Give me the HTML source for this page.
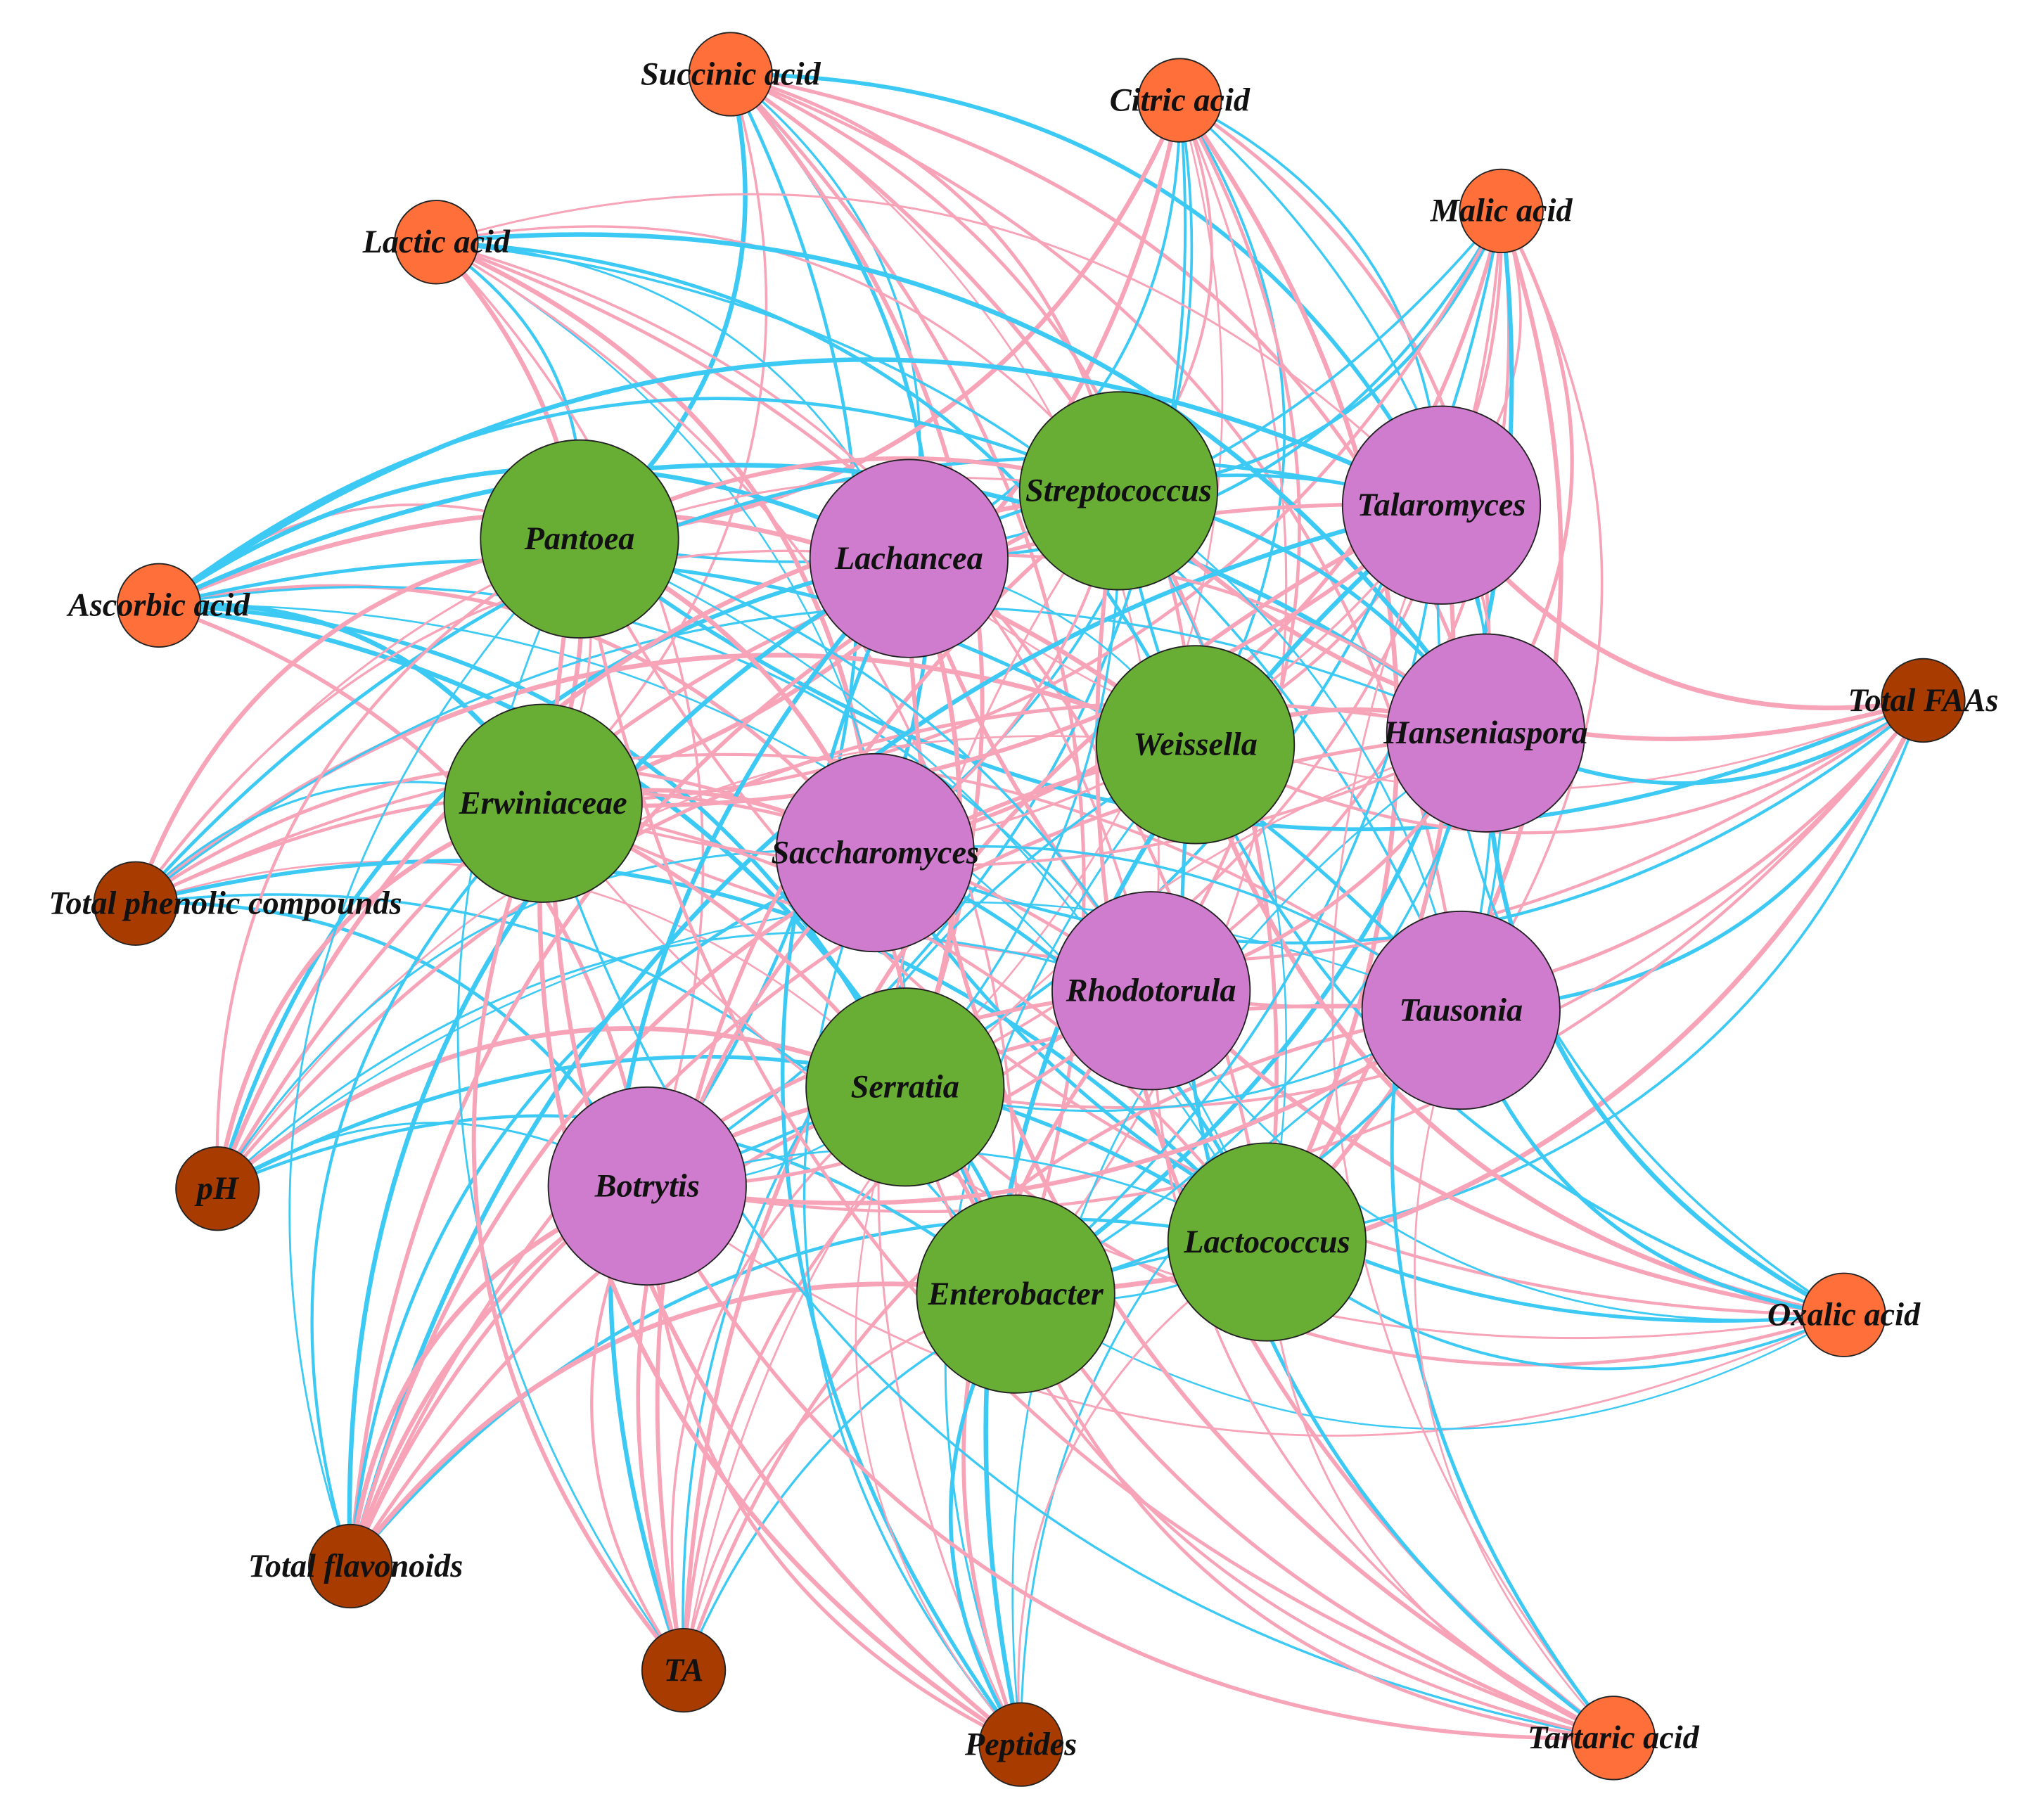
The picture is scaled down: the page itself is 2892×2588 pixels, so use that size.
<!DOCTYPE html>
<html><head><meta charset="utf-8">
<style>
html,body{margin:0;padding:0;background:#fff;}
svg{display:block;}
text{font-family:"Liberation Serif",serif;font-weight:bold;font-style:italic;fill:#111;}
</style></head>
<body>
<svg id="s" width="2892" height="2588" viewBox="0 0 1562 1398" xmlns="http://www.w3.org/2000/svg">
<g id="edges" fill="none"></g>
<g id="nodes"></g>
<g id="labels"></g>
</svg>
<script>
var outer=[
["Succinic acid",561,57,"#fe6f3a"],["Citric acid",906,77,"#fe6f3a"],["Malic acid",1153,162,"#fe6f3a"],
["Lactic acid",335,186,"#fe6f3a"],["Ascorbic acid",122,465,"#fe6f3a"],["Total FAAs",1477,538,"#a83c00"],
["Total phenolic compounds",104,694,"#a83c00",173],["pH",167,913,"#a83c00"],["Oxalic acid",1416,1010,"#fe6f3a"],
["Total flavonoids",269,1203,"#a83c00",273],["TA",525,1283,"#a83c00"],["Peptides",784,1340,"#a83c00"],
["Tartaric acid",1239,1335,"#fe6f3a"]];
var G="#68ad34",P="#cf7ccf";
var inner=[
["Pantoea",445,414,G],["Lachancea",698,429,P],["Streptococcus",859,377,G],["Talaromyces",1107,388,P],
["Weissella",918,572,G],["Hanseniaspora",1141,563,P],["Erwiniaceae",417,617,G],["Saccharomyces",672,655,P],
["Rhodotorula",884,761,P],["Tausonia",1122,776,P],["Serratia",695,835,G],["Botrytis",497,911,P],
["Lactococcus",973,954,G],["Enterobacter",780,994,G]];
var seed=7;function rnd(){seed=(seed*16807)%2147483647;return seed/2147483647;}
var eg=document.getElementById("edges"),ng=document.getElementById("nodes"),lg=document.getElementById("labels");
var NS="http://www.w3.org/2000/svg";
function edge(a,b,k){
 var dx=b[1]-a[1],dy=b[2]-a[2];
 var mx=(a[1]+b[1])/2-dy*k,my=(a[2]+b[2])/2+dx*k;
 var p=document.createElementNS(NS,"path");
 p.setAttribute("d","M"+a[1]+","+a[2]+" Q"+mx+","+my+" "+b[1]+","+b[2]);
 p.setAttribute("stroke",rnd()<0.5?"#3ccaf5":"#f7a3b8");
 p.setAttribute("stroke-width",(1.3+rnd()*2.4).toFixed(1));
 eg.appendChild(p);
}
outer.forEach(function(o){inner.forEach(function(i){edge(o,i,-0.3);});});
for(var a=0;a<inner.length;a++)for(var b=a+1;b<inner.length;b++){if(rnd()<0.45)edge(inner[a],inner[b],-0.2);}
function node(n,r){
 var c=document.createElementNS(NS,"circle");
 c.setAttribute("cx",n[1]);c.setAttribute("cy",n[2]);c.setAttribute("r",r);
 c.setAttribute("fill",n[3]);c.setAttribute("stroke","#222");c.setAttribute("stroke-width","1");
 ng.appendChild(c);
 var t=document.createElementNS(NS,"text");
 t.setAttribute("x",n[4]||n[1]);t.setAttribute("y",n[2]+8);t.setAttribute("text-anchor","middle");
 t.setAttribute("font-size","25");t.textContent=n[0];lg.appendChild(t);
}
outer.forEach(function(o){node(o,32);});
inner.forEach(function(i){node(i,76);});
</script>
</body></html>
